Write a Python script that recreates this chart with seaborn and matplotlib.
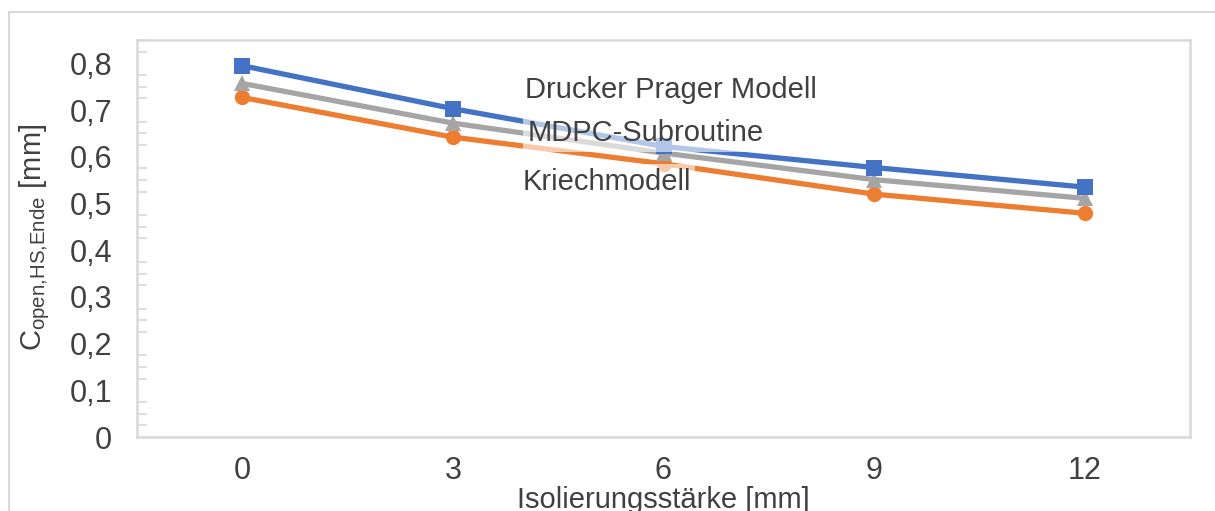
import matplotlib
matplotlib.use("Agg")
import matplotlib.pyplot as plt
from matplotlib.patches import Rectangle
from matplotlib.ticker import MultipleLocator, FixedLocator
import seaborn as sns
import pandas as pd

# Insulation thickness [mm]
thickness = [0, 3, 6, 9, 12]
series_names = ["Drucker Prager Modell", "MDPC-Subroutine", "Kriechmodell"]
drucker_prager = [0.795, 0.703, 0.622, 0.577, 0.535]
mdpc = [0.757, 0.672, 0.608, 0.551, 0.511]
kriech = [0.727, 0.642, 0.585, 0.520, 0.479]
y_ticks = [0, 0.1, 0.2, 0.3, 0.4, 0.5, 0.6, 0.7, 0.8]
y_tick_labels = ["0", "0,1", "0,2", "0,3", "0,4", "0,5", "0,6", "0,7", "0,8"]

df = pd.DataFrame({
    "Isolierungsstärke": thickness * 3,
    "Wert": drucker_prager + mdpc + kriech,
    "Modell": [series_names[0]] * 5 + [series_names[1]] * 5 + [series_names[2]] * 5,
})

sns.set_theme(style="white")
plt.rcParams["font.family"] = ["Liberation Sans", "DejaVu Sans"]
plt.rcParams["mathtext.fontset"] = "custom"
plt.rcParams["mathtext.rm"] = "Liberation Sans"

text_color = "#404040"
grid_color = "#D9D9D9"
palette = {series_names[0]: "#4472C4", series_names[1]: "#A5A5A5", series_names[2]: "#ED7D31"}
markers = {series_names[0]: "s", series_names[1]: "^", series_names[2]: "o"}

fig = plt.figure(figsize=(12.15, 5.11), dpi=100)
ax = fig.add_axes([137 / 1215, 74 / 511, 1053 / 1215, 397 / 511])

# outer chart frame
fig.patches.append(Rectangle((9 / 1215, -0.1), 1.2, (499 / 511) + 0.1,
                             transform=fig.transFigure, fill=False,
                             edgecolor=grid_color, linewidth=1.5, zorder=0))

sns.lineplot(data=df, x="Isolierungsstärke", y="Wert", hue="Modell", style="Modell",
             palette=palette, markers=markers, dashes=False, linewidth=3.8,
             markersize=11, markeredgewidth=0, legend=False, ax=ax,
             hue_order=series_names[::-1], style_order=series_names[::-1])

ax.set_xlim(-1.5, 13.5)
ax.set_ylim(0, 0.85)
ax.xaxis.set_major_locator(FixedLocator(thickness))
ax.set_xticklabels([str(t) for t in thickness])
ax.yaxis.set_major_locator(FixedLocator(y_ticks))
ax.set_yticklabels(y_tick_labels)
ax.yaxis.set_minor_locator(MultipleLocator(0.025))

for side in ["top", "right", "left", "bottom"]:
    ax.spines[side].set_color(grid_color)
    ax.spines[side].set_linewidth(1.8)

ax.tick_params(axis="both", colors=grid_color, labelcolor=text_color,
               labelsize=22, direction="in", length=7, width=1.2)
ax.tick_params(axis="y", which="minor", direction="in", length=7, width=1.2,
               colors=grid_color, left=True)
ax.tick_params(axis="y", which="both", pad=18)
ax.tick_params(axis="x", pad=14)

ax.set_xlabel("Isolierungsstärke [mm]", fontsize=21, color=text_color, labelpad=0)
ax.set_ylabel(r"C$_{\mathregular{open{,}HS{,}Ende}}$ [mm]", fontsize=21, color=text_color)
ax.yaxis.set_label_coords(-0.081, 0.502)

# series labels
ax.text(4.03, 0.744, series_names[0], fontsize=21, color=text_color,
        ha="left", va="center", zorder=5)
ax.text(4.06, 0.650, series_names[1], fontsize=21, color=text_color,
        ha="left", va="center", zorder=5,
        bbox=dict(boxstyle="square,pad=0.15", facecolor="white", edgecolor="none", alpha=0.6))
ax.text(3.99, 0.545, series_names[2], fontsize=21, color=text_color,
        ha="left", va="center", zorder=5,
        bbox=dict(boxstyle="square,pad=0.15", facecolor="white", edgecolor="none", alpha=0.6))

fig.savefig("out.png", dpi=100)
